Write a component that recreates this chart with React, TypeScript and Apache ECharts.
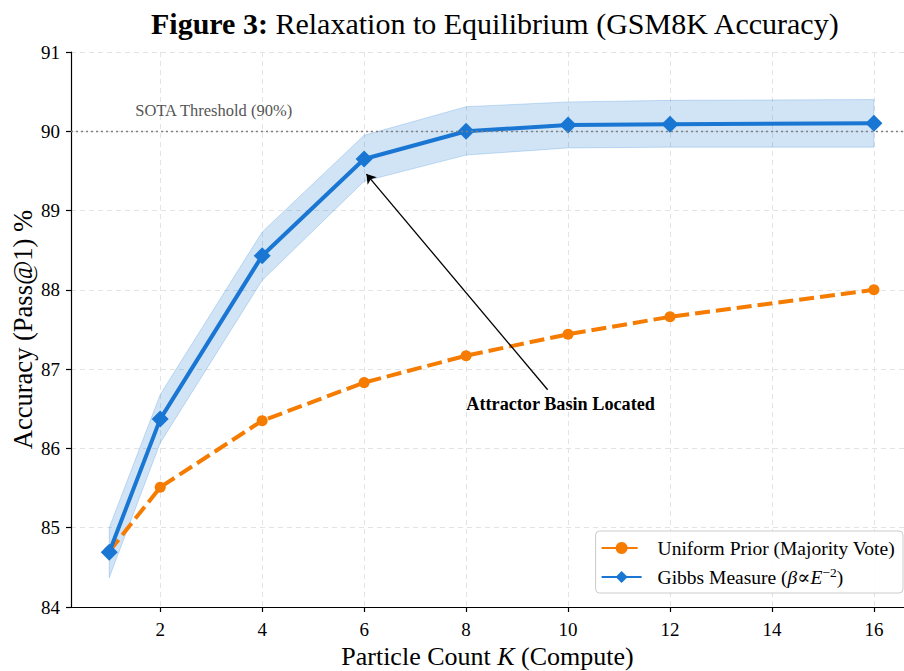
import React, { useEffect, useRef } from 'react';
import * as echarts from 'echarts';

const kValues = [1, 2, 4, 6, 8, 10, 12, 16];
const uniformPrior = [84.7, 85.51, 86.35, 86.83, 87.17, 87.44, 87.66, 88.0];
const gibbsMeasure = [84.69, 86.37, 88.43, 89.65, 90.0, 90.08, 90.09, 90.1];
const gibbsUpper = [85.0, 86.68, 88.73, 89.95, 90.31, 90.37, 90.39, 90.4];
const gibbsLower = [84.37, 86.07, 88.12, 89.37, 89.7, 89.79, 89.8, 89.8];
const xTicks = [2, 4, 6, 8, 10, 12, 14, 16];
const sotaLevel = 90;

const UNIFORM_NAME = 'Uniform Prior (Majority Vote)';
const GIBBS_NAME = 'Gibbs Measure (β∝E⁻²)';

const ORANGE = '#F57C00';
const BLUE = '#1976D2';
const FONT = '"Liberation Serif", "DejaVu Serif", serif';

export default function App() {
  const ref = useRef<HTMLDivElement>(null);
  useEffect(() => {
    document.body.style.margin = '0';
    const chart = echarts.init(ref.current!, null, { renderer: 'svg' });
    const pairs = (ys: number[]) => kValues.map((k, i) => [k, ys[i]]);

    chart.setOption({
      animation: false,
      textStyle: { fontFamily: FONT },
      title: {
        text: '{b|Figure 3:} Relaxation to Equilibrium (GSM8K Accuracy)',
        left: 146,
        top: 3,
        textStyle: {
          fontFamily: FONT,
          fontSize: 30,
          fontWeight: 'normal',
          color: '#000',
          rich: { b: { fontFamily: FONT, fontSize: 30, fontWeight: 'bold', color: '#000' } },
        },
      },
      grid: { left: 71, right: 0, top: 52, bottom: 64, containLabel: false, outerBoundsMode: 'none' },
      legend: {
        data: [UNIFORM_NAME, GIBBS_NAME],
        orient: 'vertical',
        right: 1,
        top: 531,
        itemWidth: 40,
        itemHeight: 15,
        itemGap: 7,
        padding: [7, 8, 6, 5],
        borderColor: '#cccccc',
        borderWidth: 1,
        borderRadius: 4,
        backgroundColor: 'rgba(255,255,255,0.85)',
        formatter: (name: string) =>
          name === GIBBS_NAME
            ? '{g|}{n|Gibbs Measure (}{i|β}{n|∝}{i|E}{s|−2}{n|)}'
            : '{g|}{n|' + name + '}',
        textStyle: {
          fontFamily: FONT,
          fontSize: 19.5,
          color: '#000',
          rich: {
            g: { width: 11 },
            n: { fontFamily: FONT, fontSize: 19.5, color: '#000' },
            i: { fontFamily: FONT, fontSize: 19.5, fontStyle: 'italic', color: '#000' },
            s: { fontFamily: FONT, fontSize: 13.5, color: '#000', padding: [0, 0, 10, 0] },
          },
        },
      },
      xAxis: {
        type: 'value',
        min: 0.25,
        max: 16.59,
        name: '{n|Particle Count }{i|K}{n| (Compute)}',
        nameLocation: 'middle',
        nameGap: 36,
        nameMoveOverlap: false,
        nameTextStyle: {
          lineHeight: 26,
          rich: {
            n: { fontFamily: FONT, fontSize: 26, lineHeight: 26, color: '#000' },
            i: { fontFamily: FONT, fontSize: 26, lineHeight: 26, fontStyle: 'italic', color: '#000' },
          },
        },
        axisLine: { show: true, lineStyle: { color: '#000', width: 1.2 } },
        axisTick: { show: true, length: 5, customValues: xTicks, lineStyle: { color: '#000', width: 1.2 } },
        axisLabel: { customValues: xTicks, fontFamily: FONT, fontSize: 19, lineHeight: 19, color: '#000', margin: 13 },
        splitLine: { show: true, lineStyle: { color: '#e3e3e3', type: [5, 4], width: 1 } },
      },
      yAxis: {
        type: 'value',
        min: 84,
        max: 91,
        interval: 1,
        name: 'Accuracy (Pass@1) %',
        nameLocation: 'middle',
        nameGap: 35,
        nameMoveOverlap: false,
        nameTextStyle: { fontFamily: FONT, fontSize: 26.5, color: '#000' },
        axisLine: { show: true, lineStyle: { color: '#000', width: 1.2 } },
        axisTick: { show: true, length: 5, lineStyle: { color: '#000', width: 1.2 } },
        axisLabel: { fontFamily: FONT, fontSize: 19, color: '#000', margin: 11 },
        splitLine: { show: true, lineStyle: { color: '#e3e3e3', type: [5, 4], width: 1 } },
      },
      series: [
        {
          name: 'band',
          type: 'custom',
          silent: true,
          z: 1,
          data: [[kValues[0], gibbsLower[0]]],
          encode: { x: 0, y: 1 },
          renderItem: (_params: any, api: any) => {
            const top = kValues.map((k, i) => api.coord([k, gibbsUpper[i]]));
            const bot = kValues.map((k, i) => api.coord([k, gibbsLower[i]])).reverse();
            return {
              type: 'polygon',
              shape: { points: top.concat(bot) },
              style: { fill: 'rgba(25,118,210,0.2)', stroke: 'rgba(25,118,210,0.22)', lineWidth: 1 },
            };
          },
        },
        {
          name: UNIFORM_NAME,
          type: 'line',
          data: pairs(uniformPrior),
          symbol: 'circle',
          symbolSize: 11,
          lineStyle: { color: ORANGE, width: 4, type: [15, 6] },
          itemStyle: { color: ORANGE },
          z: 3,
          markLine: {
            silent: true,
            symbol: 'none',
            label: { show: false },
            lineStyle: { color: '#808080', type: [2, 3], width: 1.3 },
            data: [{ yAxis: sotaLevel }],
          },
          markPoint: {
            silent: true,
            symbol: 'circle',
            symbolSize: 0,
            data: [
              {
                coord: [1.51, 90.26],
                label: {
                  show: true,
                  position: 'inside',
                  align: 'left',
                  verticalAlign: 'middle',
                  formatter: 'SOTA Threshold (90%)',
                  fontFamily: FONT,
                  fontSize: 16.5,
                  color: '#555',
                },
              },
              {
                coord: [9.854, 86.56],
                label: {
                  show: true,
                  position: 'inside',
                  align: 'center',
                  verticalAlign: 'middle',
                  formatter: 'Attractor Basin Located',
                  fontFamily: FONT,
                  fontSize: 18.2,
                  fontWeight: 'bold',
                  color: '#000',
                },
              },
            ],
          },
        },
        {
          name: GIBBS_NAME,
          type: 'line',
          data: pairs(gibbsMeasure),
          symbol: 'diamond',
          symbolSize: 17,
          lineStyle: { color: BLUE, width: 4 },
          itemStyle: { color: BLUE },
          z: 4,
          markLine: {
            silent: true,
            symbol: ['none', 'arrow'],
            symbolSize: 9,
            label: { show: false },
            lineStyle: { color: '#000', type: 'solid', width: 1.3 },
            data: [[{ coord: [9.6, 86.74] }, { coord: [6.045, 89.46] }]],
          },
        },
      ],
    });
    return () => chart.dispose();
  }, []);
  return <div ref={ref} style={{ width: 904, height: 671 }} />;
}
